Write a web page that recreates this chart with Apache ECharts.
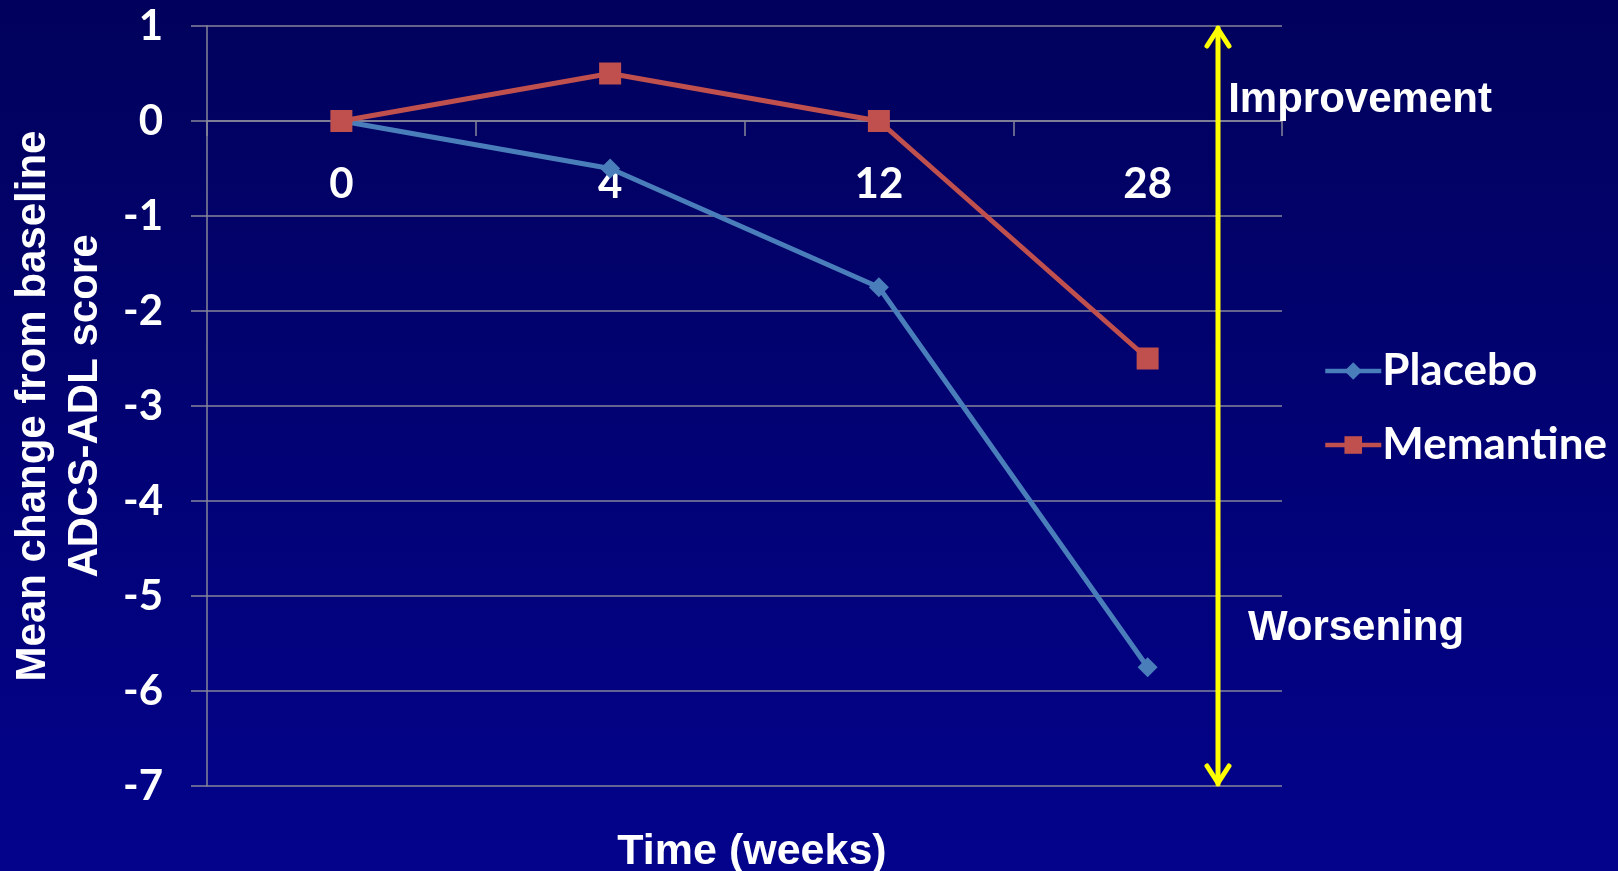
<!DOCTYPE html>
<html>
<head>
<meta charset="utf-8">
<script src="https://cdn.jsdelivr.net/npm/echarts@6/dist/echarts.min.js"></script>
<style>
  html, body { margin: 0; padding: 0; }
  #chart { width: 1618px; height: 871px; }
</style>
</head>
<body>
<div id="chart"></div>
<script>
// Visit weeks and mean change from baseline in ADCS-ADL score
const weeks = ['0', '4', '12', '28'];
const placebo = [0, -0.5, -1.75, -5.75];
const memantine = [0, 0.5, 0, -2.5];
const yTicks = { min: -7, max: 1, interval: 1 };

const chart = echarts.init(document.getElementById('chart'));

const labelFont = 'Lato, "Open Sans", sans-serif';
const titleFont = '"Liberation Sans", Arial, sans-serif';
const gridGray = '#86869a';

// Plot area in pixels; the category axis sits on the zero line
const gridBox = { left: 207, right: 336, top: 26, bottom: 85 };
const plotHeight = 871 - gridBox.top - gridBox.bottom;
const zeroOffset = -plotHeight * (0 - yTicks.min) / (yTicks.max - yTicks.min);

const option = {
  backgroundColor: {
    type: 'linear', x: 0, y: 0, x2: 0, y2: 1,
    colorStops: [
      { offset: 0, color: '#01015c' },
      { offset: 1, color: '#03038c' }
    ]
  },
  animation: false,
  grid: Object.assign({ containLabel: false, outerBoundsMode: 'none' }, gridBox),
  legend: {
    orient: 'vertical',
    left: 1318,
    top: 344,
    itemWidth: 56,
    itemHeight: 22,
    itemGap: 30,
    lineStyle: { width: 4.5 },
    textStyle: { color: '#ffffff', fontFamily: labelFont, fontWeight: 'bold', fontSize: 44, padding: [0, 0, 0, -4] },
    data: ['Placebo', 'Memantine']
  },
  title: {
    text: 'Time (weeks)',
    left: 747,
    top: 826,
    textAlign: 'center',
    textStyle: { color: '#ffffff', fontFamily: titleFont, fontWeight: 'bold', fontSize: 43 }
  },
  xAxis: {
    type: 'category',
    data: weeks,
    boundaryGap: true,
    position: 'bottom',
    offset: zeroOffset,
    axisLine: { onZero: false, lineStyle: { color: gridGray, width: 1.5 } },
    axisTick: { show: true, length: 15, lineStyle: { color: gridGray, width: 1.5 } },
    axisLabel: { color: '#ffffff', fontFamily: labelFont, fontWeight: 'bold', fontSize: 42, margin: 42 },
    splitLine: { show: false }
  },
  yAxis: {
    type: 'value',
    min: yTicks.min,
    max: yTicks.max,
    interval: yTicks.interval,
    name: '{a|Mean change from baseline}\n{a|ADCS-ADL score}',
    nameLocation: 'middle',
    nameRotate: 90,
    nameGap: 96,
    nameTextStyle: {
      rich: { a: { color: '#ffffff', fontFamily: titleFont, fontWeight: 'bold', fontSize: 42, lineHeight: 52, align: 'center' } }
    },
    axisLine: { show: true, onZero: false, lineStyle: { color: gridGray, width: 1.5 } },
    axisTick: { show: true, length: 16, lineStyle: { color: gridGray, width: 1.5 } },
    axisLabel: { color: '#ffffff', fontFamily: labelFont, fontWeight: 'bold', fontSize: 42, margin: 44 },
    splitLine: { show: true, lineStyle: { color: gridGray, width: 1.5 } }
  },
  series: [
    {
      name: 'Placebo',
      type: 'line',
      data: placebo,
      symbol: 'diamond',
      symbolSize: 20,
      color: '#4a7ebb',
      lineStyle: { width: 5, color: '#4a7ebb' },
      itemStyle: { color: '#4a7ebb' }
    },
    {
      name: 'Memantine',
      type: 'line',
      data: memantine,
      symbol: 'rect',
      symbolSize: 22,
      color: '#c0504d',
      lineStyle: { width: 5, color: '#c0504d' },
      itemStyle: { color: '#c0504d' }
    }
  ]
};

chart.setOption(option);

// Double-headed yellow arrow spanning the full value range, with its labels
const arrowX = 1218;
const yTop = chart.convertToPixel({ yAxisIndex: 0 }, yTicks.max);
const yBottom = chart.convertToPixel({ yAxisIndex: 0 }, yTicks.min);
const yellow = { stroke: '#ffff00', lineWidth: 5, lineCap: 'round', lineJoin: 'round', fill: null };
const headW = 11, headH = 20;

chart.setOption({
  graphic: [
    { type: 'line', shape: { x1: arrowX, y1: yTop + 2, x2: arrowX, y2: yBottom - 2 }, style: yellow, z: 10 },
    { type: 'polyline', shape: { points: [[arrowX - headW, yTop + headH], [arrowX, yTop + 3], [arrowX + headW, yTop + headH]] }, style: yellow, z: 10 },
    { type: 'polyline', shape: { points: [[arrowX - headW, yBottom - headH], [arrowX, yBottom - 3], [arrowX + headW, yBottom - headH]] }, style: yellow, z: 10 },
    { type: 'text', x: 1360, y: 100, style: { text: 'Improvement', fill: '#ffffff', font: 'bold 42px ' + titleFont, align: 'center', verticalAlign: 'middle' }, z: 10 },
    { type: 'text', x: 1356, y: 628, style: { text: 'Worsening', fill: '#ffffff', font: 'bold 42px ' + titleFont, align: 'center', verticalAlign: 'middle' }, z: 10 }
  ]
});
</script>
</body>
</html>
